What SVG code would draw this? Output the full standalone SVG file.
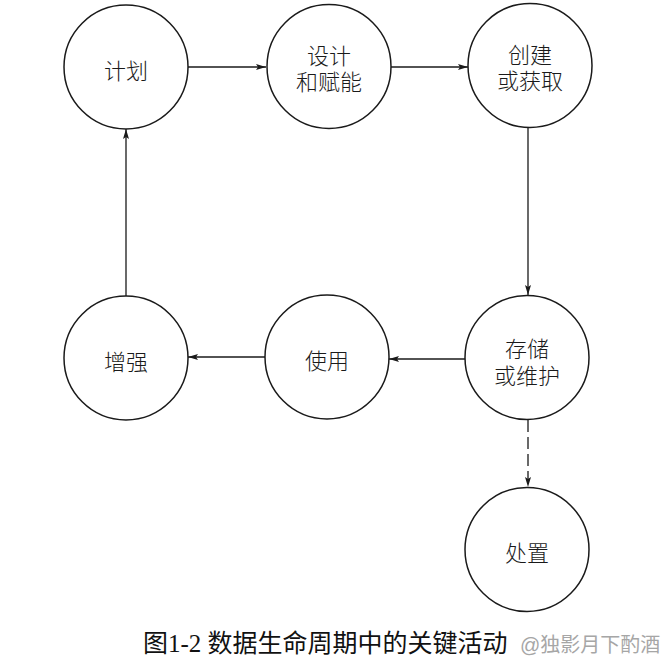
<svg xmlns="http://www.w3.org/2000/svg" width="667" height="665" viewBox="0 0 667 665">
<style>
.node{fill:#fff;stroke:#1a1a1a;stroke-width:1.5}
.lbl{font-family:"Noto Sans CJK SC","Liberation Sans",sans-serif;font-size:22px;font-weight:300;fill:#1a1a1a;text-anchor:middle;dominant-baseline:central}
.edge{stroke:#1a1a1a;stroke-width:1.3;fill:none}
.dash{stroke-dasharray:12 5}
.cap{font-family:"Liberation Serif","Noto Sans CJK SC",serif;font-size:25px;fill:#111}
.wm{font-family:"Liberation Sans","Noto Sans CJK SC",sans-serif;font-size:20px;fill:#a6a6a6}
</style>
<defs>
<marker id="arr" viewBox="0 0 10 6" refX="10" refY="3" markerWidth="10" markerHeight="6" markerUnits="userSpaceOnUse" orient="auto">
<path d="M0,0 L10,3 L0,6 L2,3 Z" fill="#1a1a1a"/>
</marker>
</defs>
<rect width="667" height="665" fill="#fff"/>
<g id="connectors">
<line class="edge" x1="188" y1="67" x2="266" y2="67" marker-end="url(#arr)"/>
<line class="edge" x1="391" y1="67" x2="468" y2="67" marker-end="url(#arr)"/>
<line class="edge" x1="528" y1="128" x2="528" y2="295" marker-end="url(#arr)"/>
<line class="edge" x1="465" y1="359" x2="389" y2="359" marker-end="url(#arr)"/>
<line class="edge" x1="265" y1="357" x2="188" y2="357" marker-end="url(#arr)"/>
<line class="edge" x1="126" y1="296" x2="126" y2="129" marker-end="url(#arr)"/>
<line class="edge dash" x1="528" y1="420" x2="528" y2="487" marker-end="url(#arr)"/>
</g>
<g id="plan">
<circle class="node" cx="126" cy="67" r="62"/>
<text class="lbl" x="126" y="69">计划</text>
</g>
<g id="design">
<circle class="node" cx="329" cy="66.5" r="62"/>
<text class="lbl" x="329" y="54">设计<tspan x="329" y="80">和赋能</tspan></text>
</g>
<g id="create">
<circle class="node" cx="530" cy="65.5" r="62"/>
<text class="lbl" x="530" y="53">创建<tspan x="530" y="79">或获取</tspan></text>
</g>
<g id="store">
<circle class="node" cx="527" cy="357.5" r="62"/>
<text class="lbl" x="527" y="347">存储<tspan x="527" y="374">或维护</tspan></text>
</g>
<g id="use">
<circle class="node" cx="327" cy="357" r="62"/>
<text class="lbl" x="327" y="359">使用</text>
</g>
<g id="enhance">
<circle class="node" cx="126" cy="358" r="62"/>
<text class="lbl" x="126" y="360">增强</text>
</g>
<g id="dispose">
<circle class="node" cx="527" cy="549.5" r="62"/>
<text class="lbl" x="527" y="551">处置</text>
</g>
<text class="cap" x="143" y="652">图1-2 数据生命周期中的关键活动</text>
<text class="wm" x="520" y="652">@独影月下酌酒</text>
</svg>
